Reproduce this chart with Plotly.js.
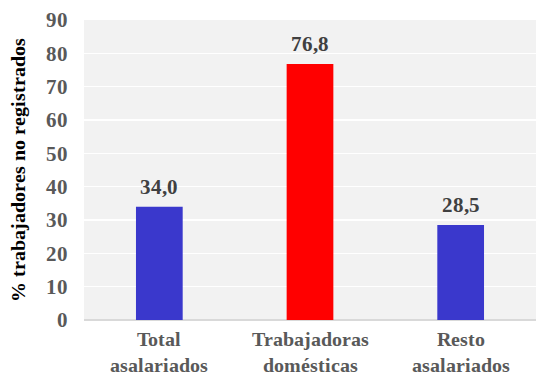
<!DOCTYPE html>
<html>
<head>
<meta charset="utf-8">
<script src="https://cdn.plot.ly/plotly-3.0.1.min.js"></script>
<style>
  @font-face {
    font-family: "ChartSerif";
    src: local("Liberation Serif Bold"), local("LiberationSerif-Bold");
    font-weight: 700;
    font-style: normal;
  }
  @font-face {
    font-family: "ChartSerif";
    src: local("Liberation Serif"), local("LiberationSerif");
    font-weight: 400;
    font-style: normal;
  }
  html, body { margin: 0; padding: 0; background: #ffffff; }
</style>
</head>
<body>
<div id="chart" style="width:536px;height:376px"></div>
<script>
// Share of wage earners without registration, by group
const categories = ["Total asalariados", "Trabajadoras domésticas", "Resto asalariados"];
const categoryLabels = ["Total<br>asalariados", "Trabajadoras<br>domésticas", "Resto<br>asalariados"];
const values = [34.0, 76.8, 28.5];
const barColors = ["#3a38cc", "#ff0000", "#3a38cc"];
const yTicks = [0, 10, 20, 30, 40, 50, 60, 70, 80, 90];

const serif = "ChartSerif, Liberation Serif, serif";

function serifFont(size, color) {
  return { family: serif, size: size, color: color, weight: "bold" };
}

// Value labels in Spanish decimal format (comma separator)
const labelText = values.map(v => v.toFixed(1).replace(".", ","));

function draw() {
  const trace = {
    type: "bar",
    x: categories,
    y: values,
    marker: { color: barColors, line: { width: 0 } },
    hoverinfo: "skip"
  };

  const annotations = values.map((v, i) => ({
    x: categories[i],
    y: v,
    xref: "x",
    yref: "y",
    text: labelText[i],
    showarrow: false,
    yanchor: "bottom",
    yshift: 6,
    font: serifFont(21, "#404040")
  }));

  const layout = {
    width: 536,
    height: 376,
    margin: { l: 84, r: 0, t: 20, b: 56 },
    paper_bgcolor: "#ffffff",
    plot_bgcolor: "#f2f2f2",
    bargap: 0.69,
    showlegend: false,
    xaxis: {
      type: "category",
      tickvals: categories,
      ticktext: categoryLabels,
      showgrid: false,
      showline: false,
      ticks: "",
      ticklabelstandoff: 5,
      tickfont: serifFont(20, "#595959"),
      fixedrange: true
    },
    yaxis: {
      range: [0, 90],
      tickvals: yTicks,
      ticktext: yTicks.map(String),
      showgrid: true,
      gridcolor: "#ffffff",
      gridwidth: 1.5,
      zeroline: true,
      zerolinecolor: "#d9d9d9",
      zerolinewidth: 1.5,
      showline: false,
      ticks: "",
      ticklabelstandoff: 15,
      tickfont: serifFont(21, "#595959"),
      title: {
        text: "% trabajadores no registrados",
        font: serifFont(20, "#000000"),
        standoff: 15
      },
      fixedrange: true
    },
    annotations: annotations
  };

  Plotly.newPlot("chart", [trace], layout, { displayModeBar: false, staticPlot: true });
}

// Load the locally installed serif faces before any text is measured
if (document.fonts && document.fonts.load) {
  Promise.all([
    document.fonts.load("700 20px ChartSerif"),
    document.fonts.load("400 20px ChartSerif")
  ]).then(draw, draw);
} else {
  draw();
}
</script>
</body>
</html>
